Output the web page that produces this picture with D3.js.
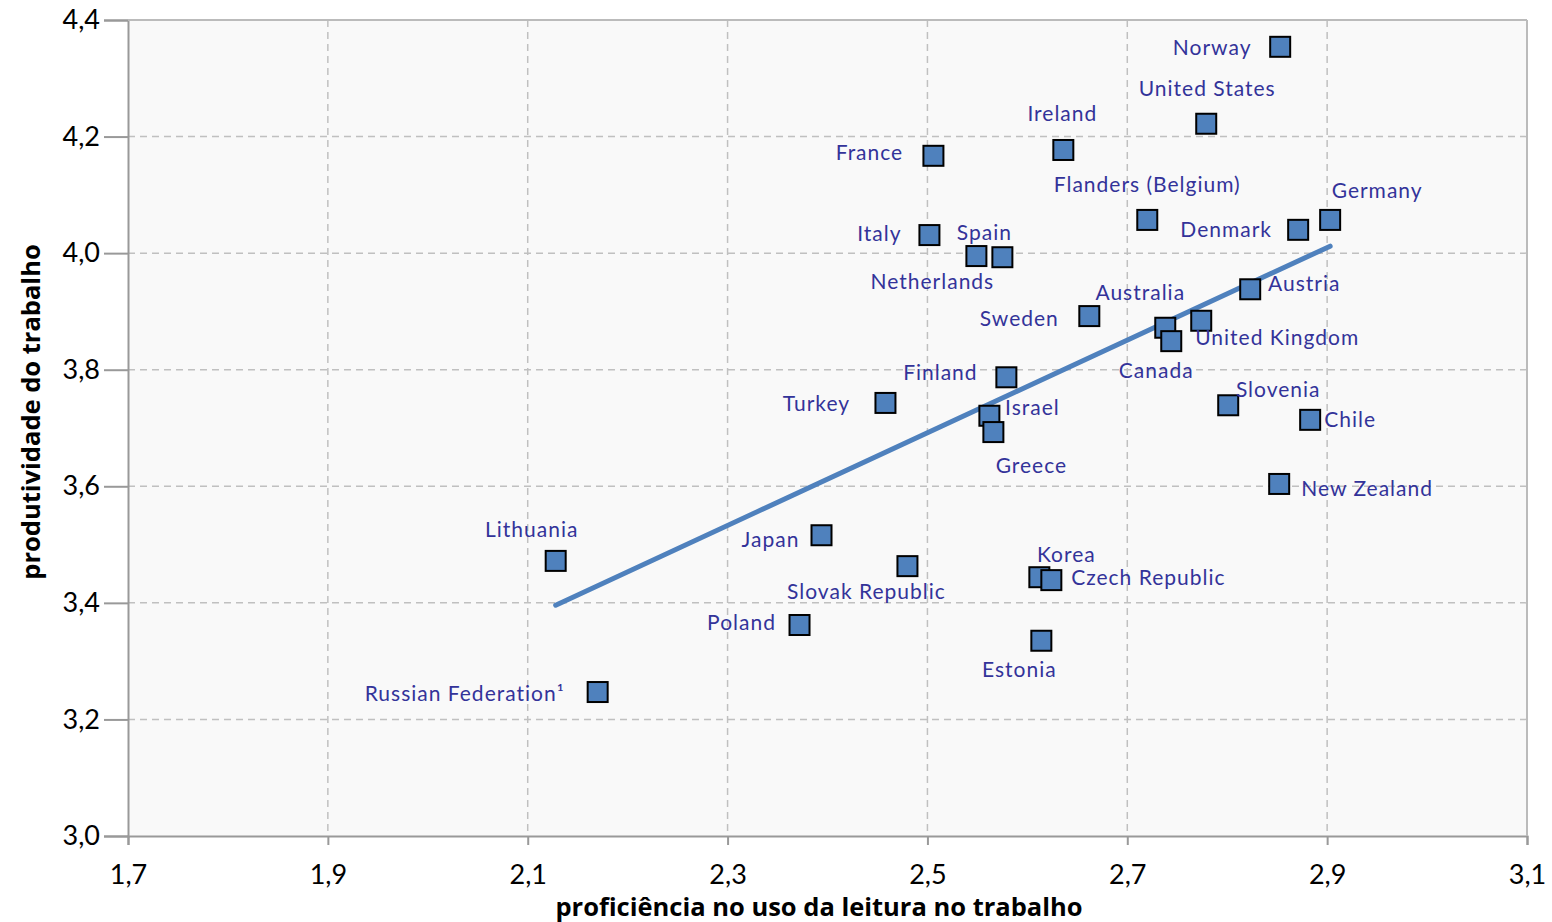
<!DOCTYPE html>
<html><head><meta charset="utf-8">
<script src="https://cdn.jsdelivr.net/npm/d3@7/dist/d3.min.js"></script>
<style>
html,body{margin:0;padding:0;background:#fff;}
svg{display:block;font-family:Lato,"Open Sans",sans-serif;}
</style></head>
<body><svg id="c" width="1552" height="922"></svg>
<script>
const countries = ["Norway","United States","Ireland","France","Flanders (Belgium)","Germany","Denmark","Italy","Spain","Netherlands","Australia","Austria","Sweden","United Kingdom","Canada","Finland","Turkey","Slovenia","Israel","Chile","Greece","New Zealand","Lithuania","Japan","Slovak Republic","Korea","Czech Republic","Poland","Estonia","Russian Federation¹"];
const literacyUse = [2.853,2.779,2.636,2.506,2.720,2.903,2.871,2.502,2.575,2.549,2.738,2.823,2.662,2.774,2.744,2.579,2.458,2.801,2.562,2.883,2.566,2.852,2.128,2.394,2.480,2.612,2.624,2.372,2.614,2.170];
const productivity = [4.354,4.222,4.177,4.167,4.057,4.057,4.040,4.031,3.993,3.995,3.872,3.938,3.892,3.884,3.849,3.787,3.743,3.739,3.721,3.714,3.693,3.604,3.472,3.516,3.463,3.444,3.439,3.362,3.335,3.247];
// label offsets in px (layout)
const labelDx = [-68,1,-1,-64,0,47,-72,-50,-18,-44,-25,54,-70,76,-15,-66,-69,50,43,40,38,88,-24,-51,-41,27,97,-58,-22,-133];
const labelDy = [0,-36,-37,-4,-36,-30,-1,-3,-26,24,-36,-7,1,16,28,-6,0,-17,-9,-1,32,4,-32,3,24,-24,-4,-4,28,0];
const trendX = [2.128,2.903];
const trendY = [3.396,4.012];
const xTicks = [1.7,1.9,2.1,2.3,2.5,2.7,2.9,3.1];
const yTicks = [3.0,3.2,3.4,3.6,3.8,4.0,4.2,4.4];
const xTitle = "proficiência no uso da leitura no trabalho";
const yTitle = "produtividade do trabalho";

const svg = d3.select("#c");
const L=128,R=1527,T=20,B=836;
const x = d3.scaleLinear().domain([1.7,3.1]).range([L,R]);
const y = d3.scaleLinear().domain([3.0,4.4]).range([B,T]);
const fmt = d => d3.format(".1f")(d).replace(".",",");

svg.append("rect").attr("x",L).attr("y",T).attr("width",R-L).attr("height",B-T).attr("fill","#f9f9f9");

// grid
const g = svg.append("g");
g.selectAll(".gx").data(xTicks.slice(1)).join("line")
 .attr("x1",d=>x(d)).attr("x2",d=>x(d)).attr("y1",T).attr("y2",B)
 .attr("stroke","#c0c0c0").attr("stroke-width",1.5).attr("stroke-dasharray","7,5");
g.selectAll(".gy").data(yTicks.slice(1)).join("line")
 .attr("y1",d=>y(d)).attr("y2",d=>y(d)).attr("x1",L).attr("x2",R)
 .attr("stroke","#c0c0c0").attr("stroke-width",1.5).attr("stroke-dasharray","7,5");

// axes
const xa = svg.append("g").attr("transform",`translate(0,${B})`)
 .call(d3.axisBottom(x).tickValues(xTicks).tickFormat(fmt).tickSize(9).tickPadding(20));
const ya = svg.append("g").attr("transform",`translate(${L},0)`)
 .call(d3.axisLeft(y).tickValues(yTicks).tickFormat(fmt).tickSize(24).tickPadding(4));
[xa,ya].forEach(a=>{
  a.select(".domain").attr("stroke","#999").attr("stroke-width",2);
  a.selectAll(".tick line").attr("stroke","#999").attr("stroke-width",2);
  a.selectAll(".tick text").attr("fill","#000").style("font-size","27px").style("font-family","Lato,sans-serif");
});
// top & right border
svg.append("line").attr("x1",L).attr("x2",R).attr("y1",T).attr("y2",T).attr("stroke","#bbb").attr("stroke-width",2);
svg.append("line").attr("x1",R).attr("x2",R).attr("y1",T).attr("y2",B).attr("stroke","#bbb").attr("stroke-width",2);

// trend
svg.append("line").attr("x1",x(trendX[0])).attr("y1",y(trendY[0])).attr("x2",x(trendX[1])).attr("y2",y(trendY[1]))
 .attr("stroke","#4f81bd").attr("stroke-width",5).attr("stroke-linecap","round");

const data = countries.map((c,i)=>({c,x:literacyUse[i],y:productivity[i],dx:labelDx[i],dy:labelDy[i]}));
// markers
const s=20;
svg.selectAll(".m").data(data).join("rect")
 .attr("x",d=>x(d.x)-s/2).attr("y",d=>y(d.y)-s/2).attr("width",s).attr("height",s)
 .attr("fill","#4f81bd").attr("stroke","#000").attr("stroke-width",2);
// labels
svg.selectAll(".lb").data(data).join("text")
 .attr("x",d=>x(d.x)+d.dx).attr("y",d=>y(d.y)+d.dy)
 .attr("text-anchor","middle").attr("dominant-baseline","central")
 .attr("fill","#333399").style("font-size","21px").style("letter-spacing","1px")
 .text(d=>d.c);

// titles
svg.append("text").attr("x",819).attr("y",916).attr("text-anchor","middle")
 .style("font-weight","bold").style("font-size","25.5px").style("font-family","'Open Sans',sans-serif").attr("fill","#000").text(xTitle);
svg.append("text").attr("transform",`translate(40,412) rotate(-90)`).attr("text-anchor","middle")
 .style("font-weight","bold").style("font-size","25.5px").style("font-family","'Open Sans',sans-serif").attr("fill","#000").text(yTitle);
</script></body></html>
